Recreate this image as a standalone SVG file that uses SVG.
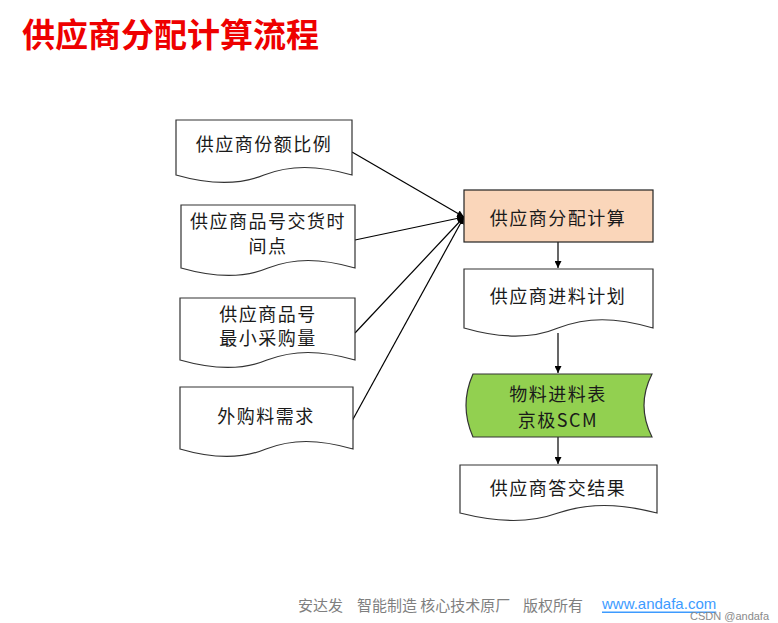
<svg xmlns="http://www.w3.org/2000/svg" width="778" height="623" viewBox="0 0 778 623">
<defs>
<style>
.shape{fill:#ffffff;stroke:#333333;stroke-width:1.2}
.t{font-family:"Noto Sans CJK SC","Noto Sans",sans-serif;font-size:18px;fill:#1a1a1a;text-anchor:middle;dominant-baseline:central;letter-spacing:1.5px}
.conn{stroke:#000000;stroke-width:1.2;fill:none;marker-end:url(#arr)}
</style>
<marker id="arr" viewBox="0 0 10 10" refX="10" refY="5" markerWidth="7" markerHeight="7" markerUnits="userSpaceOnUse" orient="auto">
<path d="M0,0 L10,5 L0,10 Z" fill="#000"/>
</marker>
</defs>
<rect width="778" height="623" fill="#ffffff"/>
<text x="22" y="33" font-family="'Noto Sans CJK SC','Noto Sans',sans-serif" font-size="33" font-weight="bold" fill="#EE0000" dominant-baseline="central">供应商分配计算流程</text>

<g id="connectors">
<line class="conn" x1="352" y1="152" x2="464" y2="217"/>
<line class="conn" x1="355" y1="240" x2="464" y2="217"/>
<line class="conn" x1="355" y1="333" x2="464" y2="217"/>
<line class="conn" x1="352" y1="421" x2="464" y2="217"/>
<line class="conn" x1="558" y1="242" x2="558" y2="268"/>
<line class="conn" x1="558" y1="333" x2="558" y2="373"/>
<line class="conn" x1="558" y1="437" x2="558" y2="464"/>
</g>

<g id="n1">
<path class="shape" d="M176,120 H352 V175 C317,165 290,165 264,175 C240,185 211,185 176,175 Z"/>
<text class="t" x="264" y="143">供应商份额比例</text>
</g>
<g id="n2">
<path class="shape" d="M181,205 H355 V268 C320,258 294,258 268,268 C244,278 216,278 181,268 Z"/>
<text class="t" x="268" y="220">供应商品号交货时</text>
<text class="t" x="268" y="245">间点</text>
</g>
<g id="n3">
<path class="shape" d="M180,298 H355 V360 C320,350 294,350 267,360 C243,370 215,370 180,360 Z"/>
<text class="t" x="268" y="313">供应商品号</text>
<text class="t" x="268" y="337">最小采购量</text>
</g>
<g id="n4">
<path class="shape" d="M180,387 H353 V449 C318,439 292,439 266,449 C242,459 214,459 180,449 Z"/>
<text class="t" x="266" y="415">外购料需求</text>
</g>
<g id="n5">
<rect x="464" y="190" width="189" height="52" fill="#FAD6BA" stroke="#222" stroke-width="1.2"/>
<text class="t" x="558" y="217">供应商分配计算</text>
</g>
<g id="n6">
<path class="shape" d="M464,269 H653 V328 C615,317 587,317 558,328 C532,339 502,339 464,328 Z"/>
<text class="t" x="558" y="295">供应商进料计划</text>
</g>
<g id="n7">
<path d="M473,374 H652 Q636,405.5 652,437 H473 Q459,405.5 473,374 Z" fill="#92D050" stroke="#333" stroke-width="1.2"/>
<text class="t" x="558" y="393">物料进料表</text>
<text class="t" x="558" y="419" letter-spacing="0.5">京极SCM</text>
</g>
<g id="n8">
<path class="shape" d="M460,465 H657 V513 C618,503 588,503 558,513 C530,523 500,523 460,513 Z"/>
<text class="t" x="558" y="487">供应商答交结果</text>
</g>

<g id="footer" font-family="'Noto Sans CJK SC','Noto Sans',sans-serif" font-size="15" fill="#7f7f7f">
<text x="298" y="604" dominant-baseline="central">安达发</text>
<text x="357" y="604" dominant-baseline="central">智能制造 核心技术原厂</text>
<text x="523" y="604" dominant-baseline="central">版权所有</text>
<text x="602" y="603" dominant-baseline="central" font-family="'Liberation Sans',Arial,sans-serif" fill="#3d9bff" text-decoration="underline">www.andafa.com</text>
<text x="690" y="616" dominant-baseline="central" font-family="'Liberation Sans',Arial,sans-serif" font-size="11" fill="#8a8a8a">CSDN @andafa</text>
</g>
</svg>
